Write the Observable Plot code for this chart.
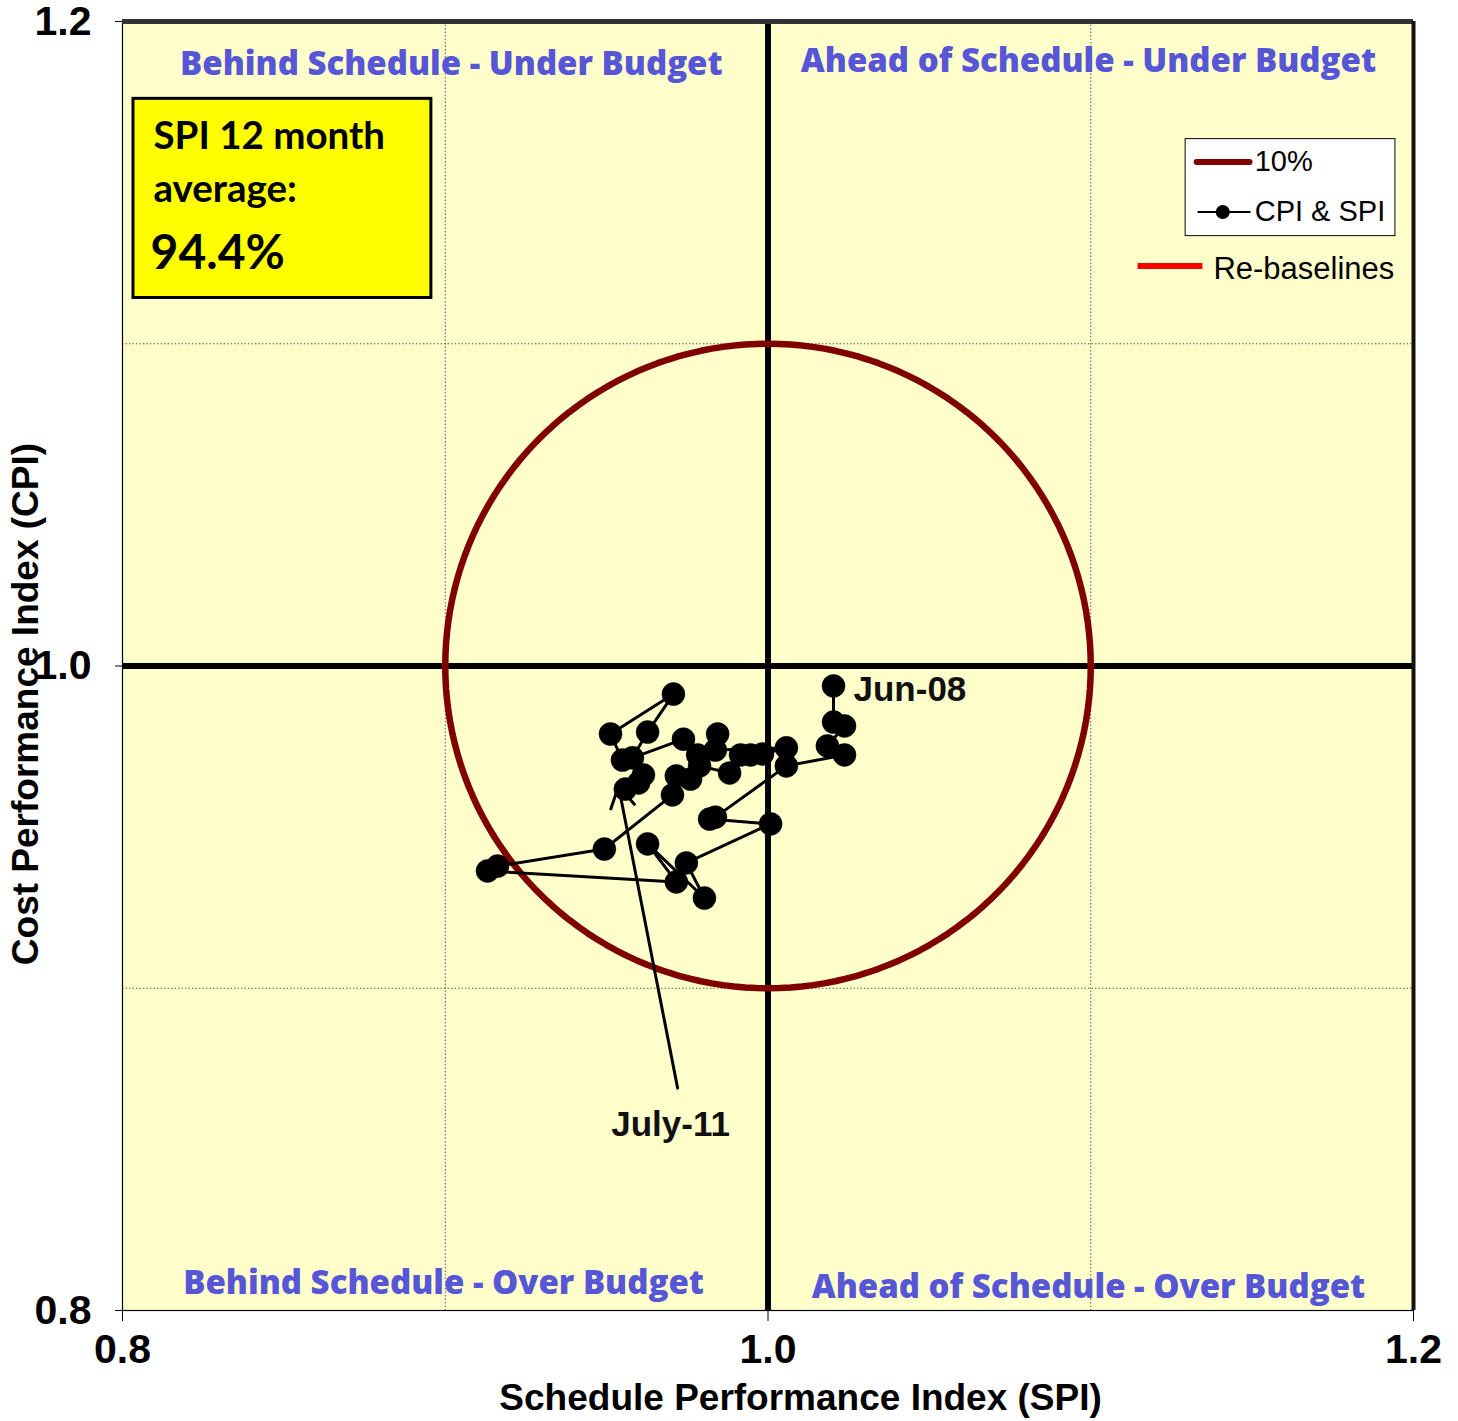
<!DOCTYPE html>
<html>
<head>
<meta charset="utf-8">
<script src="https://cdn.jsdelivr.net/npm/d3@7"></script>
<script src="https://cdn.jsdelivr.net/npm/@observablehq/plot@0.6"></script>
<style>
  html, body { margin: 0; padding: 0; background: #fff; }
  #chart svg { overflow: visible; display: block; }
</style>
</head>
<body>
<div id="chart"></div>
<script>
// ---- Data ----
// Monthly SPI / CPI pairs, Jun-08 first, July-11 last
const spi = [1.0203, 1.0203, 1.0237, 1.0184, 1.0237, 1.0057, 0.9837, 0.9819, 1.0008, 0.9747,
             0.9803, 0.9627, 0.9716, 0.9131, 0.9162, 0.9493, 0.9704, 0.9716, 0.9760, 0.9788,
             0.9881, 0.9915, 0.9946, 0.9983, 1.0057, 0.9837, 0.9844, 0.9782, 0.9738, 0.9580,
             0.9627, 0.9707, 0.9512, 0.9549, 0.9614, 0.9599, 0.9558];
const cpi = [0.9938, 0.9826, 0.9814, 0.9752, 0.9724, 0.9690, 0.9531, 0.9525, 0.9510, 0.9389,
             0.9280, 0.9448, 0.9330, 0.9364, 0.9379, 0.9432, 0.9600, 0.9659, 0.9649, 0.9690,
             0.9668, 0.9724, 0.9724, 0.9727, 0.9746, 0.9739, 0.9789, 0.9724, 0.9773, 0.9715,
             0.9795, 0.9913, 0.9789, 0.9708, 0.9662, 0.9637, 0.9618];
const xTicks = [0.8, 1.0, 1.2];
const yTicks = [0.8, 1.0, 1.2];
const gridLines = [0.9, 1.1];
const centre = 1.0;
const threshold = 0.10; // "10%" circle radius

const quadrantLabels = ["Behind Schedule - Under Budget", "Ahead of Schedule - Under Budget",
                        "Behind Schedule - Over Budget", "Ahead of Schedule - Over Budget"];
const quadrantX = [0.9019, 1.0993, 0.8995, 1.0993];
const quadrantY = [1.1868, 1.1877, 0.8085, 0.8073];

const boxLines = ["SPI 12 month", "average:", "94.4%"];
const firstLabel = "Jun-08";
const lastLabel = "July-11";
const legendLabels = ["10%", "CPI & SPI", "Re-baselines"];

// ---- Build ----
const points = spi.map((s, i) => ({spi: s, cpi: cpi[i]}));
const circle = d3.range(0, 361, 2).map(a => ({
  x: centre + threshold * Math.cos(a * Math.PI / 180),
  y: centre + threshold * Math.sin(a * Math.PI / 180)
}));

const FONT = "'Liberation Sans', Arial, sans-serif";
const NARROW = "'Liberation Sans Narrow', 'Liberation Sans', sans-serif";
const QFONT = "'Open Sans', Lato, sans-serif";
const BFONT = "Lato, 'Open Sans', sans-serif";
const BLUE = "#5656d6";

const chart = Plot.plot({
  width: 1458,
  height: 1421,
  marginTop: 21,
  marginRight: 45,
  marginBottom: 111,
  marginLeft: 122,
  x: {domain: [0.8, 1.2], ticks: xTicks, tickFormat: d3.format(".1f"), label: null},
  y: {domain: [0.8, 1.2], ticks: yTicks, tickFormat: d3.format(".1f"), label: null},
  style: {fontFamily: FONT, background: "white", overflow: "visible"},
  marks: [
    Plot.frame({fill: "#ffffcc", stroke: null}),
    Plot.ruleX(gridLines, {stroke: "#333", strokeWidth: 0.8, strokeDasharray: "1.5,2"}),
    Plot.ruleY(gridLines, {stroke: "#333", strokeWidth: 0.8, strokeDasharray: "1.5,2"}),
    Plot.ruleX([centre], {stroke: "black", strokeWidth: 6}),
    Plot.ruleY([centre], {stroke: "black", strokeWidth: 6}),
    Plot.line(circle, {x: "x", y: "y", stroke: "#800000", strokeWidth: 6.5, curve: "linear"}),
    Plot.line(points, {x: "spi", y: "cpi", stroke: "black", strokeWidth: 3}),
    Plot.dot(points, {x: "spi", y: "cpi", r: 11.5, fill: "black", stroke: "black", strokeWidth: 0.5}),
    // Quadrant labels
    Plot.text(quadrantLabels, {x: (d, i) => quadrantX[i], y: (d, i) => quadrantY[i], text: d => d,
      fill: BLUE, fontFamily: QFONT, fontWeight: 800, fontSize: 33, textAnchor: "middle"}),
    // First / last labels
    Plot.text([firstLabel], {x: [1.0265], y: [0.9926], text: d => d, textAnchor: "start",
      fontFamily: FONT, fontWeight: "bold", fontSize: 35, fill: "#111"}),
    Plot.text([lastLabel], {x: [0.9698], y: [0.8576], text: d => d, textAnchor: "middle",
      fontFamily: FONT, fontWeight: "bold", fontSize: 35, fill: "#111"}),
    Plot.arrow([lastLabel], {x1: [0.9720], y1: [0.8690], x2: [spi[spi.length - 1] - 0.0021], y2: [cpi[cpi.length - 1] + 0.0009],
      stroke: "black", strokeWidth: 3, headLength: 12, bend: 0}),
    // Yellow info box
    Plot.rect([0], {x1: 0.8034, x2: 0.8957, y1: 1.1142, y2: 1.1760, fill: "#ffff00", stroke: "black", strokeWidth: 3}),
    Plot.text([boxLines[0]], {x: [0.8096], y: [1.1642], text: d => d, textAnchor: "start",
      fontFamily: BFONT, fontWeight: "bold", fontSize: 38.5, fill: "black"}),
    Plot.text([boxLines[1]], {x: [0.8096], y: [1.1477], text: d => d, textAnchor: "start",
      fontFamily: BFONT, fontWeight: "bold", fontSize: 38.5, fill: "black"}),
    Plot.text([boxLines[2]], {x: [0.8087], y: [1.1279], text: d => d, textAnchor: "start",
      fontFamily: BFONT, fontWeight: "bold", fontSize: 48, fill: "black"}),
    // Legend
    Plot.rect([0], {x1: 1.1294, x2: 1.1944, y1: 1.1334, y2: 1.1635, fill: "white", stroke: "black", strokeWidth: 1}),
    Plot.link([0], {x1: 1.1328, x2: 1.1492, y1: 1.1564, y2: 1.1564, stroke: "#800000", strokeWidth: 6, strokeLinecap: "round"}),
    Plot.text([legendLabels[0]], {x: [1.1508], y: [1.1564], text: d => d, textAnchor: "start", fontSize: 29, fontFamily: FONT, fill: "black"}),
    Plot.link([0], {x1: 1.1331, x2: 1.1495, y1: 1.1409, y2: 1.1409, stroke: "black", strokeWidth: 2}),
    Plot.dot([0], {x: [1.1409], y: [1.1409], r: 7, fill: "black"}),
    Plot.text([legendLabels[1]], {x: [1.1508], y: [1.1409], text: d => d, textAnchor: "start", fontSize: 29, fontFamily: FONT, fill: "black"}),
    Plot.link([0], {x1: 1.1145, x2: 1.1346, y1: 1.1241, y2: 1.1241, stroke: "#ff0000", strokeWidth: 6}),
    Plot.text([legendLabels[2]], {x: [1.1380], y: [1.1232], text: d => d, textAnchor: "start", fontSize: 31, fontFamily: FONT, fill: "black"}),
    // Frame borders
    Plot.frame({stroke: "black", strokeWidth: 1.2}),
    Plot.ruleY([1.2], {stroke: "#333", strokeWidth: 5}),
    Plot.ruleX([1.2], {stroke: "#111", strokeWidth: 4}),
    // Axes
    Plot.axisX({ticks: xTicks, tickFormat: d3.format(".1f"), tickSize: 11, tickPadding: 12,
      fontSize: 41, fontFamily: NARROW, fontWeight: "bold", label: null, stroke: "black", fill: "black"}),
    Plot.axisY({ticks: yTicks, tickFormat: d3.format(".1f"), tickSize: 7, tickPadding: 24,
      fontSize: 41, fontFamily: NARROW, fontWeight: "bold", label: null, stroke: "black", fill: "black"}),
    // Axis titles
    Plot.text(["Schedule Performance Index (SPI)"], {x: [1.0101], y: [0.7728], text: d => d,
      fontSize: 37, fontWeight: "bold", fontFamily: FONT, fill: "black", textAnchor: "middle"}),
    Plot.text(["Cost Performance Index (CPI)"], {x: [0.7700], y: [0.9882], text: d => d, rotate: -90,
      fontSize: 37, fontWeight: "bold", fontFamily: FONT, fill: "black", textAnchor: "middle"})
  ]
});
document.getElementById("chart").append(chart);
</script>
</body>
</html>
